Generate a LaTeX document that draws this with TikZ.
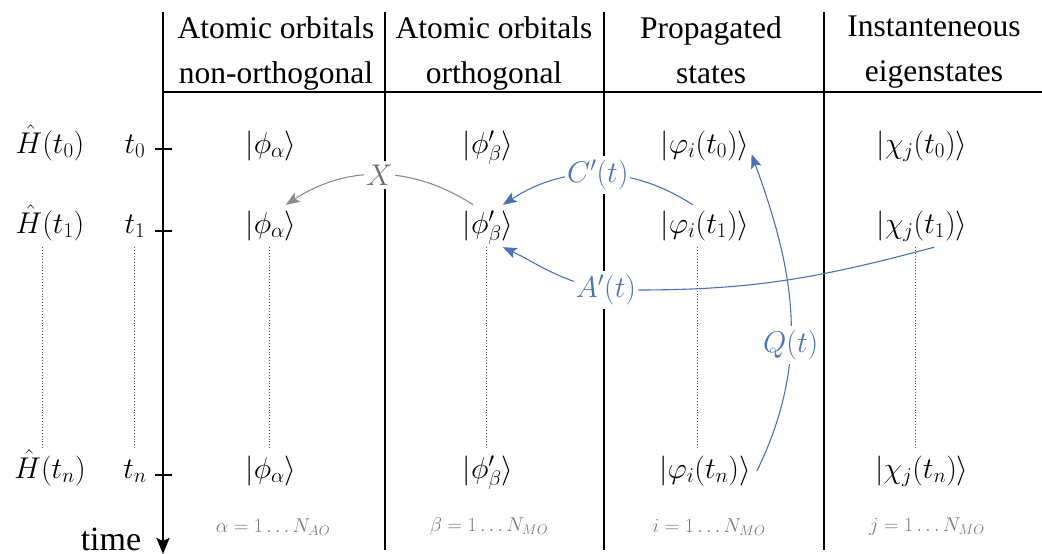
\RequirePackage{fix-cm}
\documentclass[tikz,border=0pt]{standalone}
\usepackage[no-math]{fontspec}
\setmainfont{Liberation Serif}
\usetikzlibrary{arrows.meta}
\definecolor{qblue}{RGB}{74,114,184}
\definecolor{xgray}{RGB}{140,140,140}
\definecolor{xtext}{RGB}{110,110,110}
\definecolor{lgray}{RGB}{120,120,120}
\begin{document}
\begin{tikzpicture}[x=1pt,y=1pt,
  every node/.style={font=\fontsize{30}{36}\selectfont},
  row/.style={anchor=base, inner xsep=2pt, inner ysep=6pt, text height=22.5pt, text depth=7.5pt},
  head/.style={anchor=north, inner sep=0pt, align=center, font=\fontsize{31.5}{45}\selectfont},
  rng/.style={text=lgray, font=\fontsize{20}{24}\selectfont},
  sep/.style={line width=1.3pt},
  tick/.style={line width=2pt},
  dots/.style={dotted, line width=0.9pt, black!70},
  blu/.style={qblue, line width=1.1pt},
  barrow/.style={blu, -{Stealth[length=14pt,width=11pt,inset=3pt]}},
  garrow/.style={xgray, line width=1.1pt, -{Stealth[length=14pt,width=11pt,inset=3pt]}},
  lab/.style={fill=white, inner xsep=2pt, inner ysep=4pt},
]
\useasboundingbox (0,0) rectangle (1042,554);

% headers
\node[head] (hd1) at (276,538) {Atomic orbitals\\non-orthogonal};
\node[head] (hd2) at (494,538) {Atomic orbitals\\orthogonal};
\node[head] (hd3) at (711,538) {Propagated\\states};
\node[head] (hd4) at (934,538) {Instanteneous\\eigenstates};

% table lines
\draw[sep] (163,462) -- (1042,462);
\draw[sep] (385,542) -- (385,4);
\draw[sep] (604,542) -- (604,4);
\draw[sep] (824,542) -- (824,4);

% time axis
\draw[line width=2.4pt, -{Stealth[length=16pt,width=13pt,inset=3pt]}] (163,542) -- (163,0);
\draw[tick] (155,405) -- (172,405);
\draw[tick] (155,323) -- (172,323);
\draw[tick] (155,79) -- (172,79);
\node[anchor=base, font=\fontsize{34}{40}\selectfont] (time) at (111,3) {time};

% row labels
\node[row] (h0) at (50,400.5) {$\hat H(t_0)$};
\node[row] (h1) at (50,320.5) {$\hat H(t_1)$};
\node[row] (hn) at (50,75.5) {$\hat H(t_n)$};
\node[row] (s0) at (135,400.5) {$t_0$};
\node[row] (s1) at (135,320.5) {$t_1$};
\node[row] (sn) at (135,75.5) {$t_n$};

% kets
\node[row] (a0) at (271,400.5) {$|\phi_\alpha\rangle$};
\node[row] (a1) at (271,320.5) {$|\phi_\alpha\rangle$};
\node[row] (an) at (271,75.5) {$|\phi_\alpha\rangle$};
\node[row] (b0) at (488,400.5) {$|\phi'_\beta\rangle$};
\node[row] (b1) at (488,320.5) {$|\phi'_\beta\rangle$};
\node[row] (bn) at (488,75.5) {$|\phi'_\beta\rangle$};
\node[row] (c0) at (705,400.5) {$|\varphi_i(t_0)\rangle$};
\node[row] (c1) at (705,320.5) {$|\varphi_i(t_1)\rangle$};
\node[row] (cn) at (705,75.5) {$|\varphi_i(t_n)\rangle$};
\node[row] (d0) at (922,400.5) {$|\chi_j(t_0)\rangle$};
\node[row] (d1) at (922,320.5) {$|\chi_j(t_1)\rangle$};
\node[row] (dn) at (922,75.5) {$|\chi_j(t_n)\rangle$};

% dotted continuation lines
\draw[dots] ([xshift=-8pt]h1.south) -- ([xshift=-8pt]hn.north);
\draw[dots] ([xshift=-1pt]s1.south) -- ([xshift=-1pt]sn.north);
\draw[dots] ([xshift=-2pt]a1.south) -- ([xshift=-2pt]an.north);
\draw[dots] ([xshift=-2pt]b1.south) -- ([xshift=-2pt]bn.north);
\draw[dots] ([xshift=-8pt]c1.south) -- ([xshift=-8pt]cn.north);
\draw[dots] ([xshift=-7pt]d1.south) -- ([xshift=-7pt]dn.north);

% ranges
\node[rng] (ra) at (273,27) {$\alpha=1\ldots N_{AO}$};
\node[rng] (rb) at (489,27) {$\beta=1\ldots N_{MO}$};
\node[rng] (ri) at (709,27) {$i=1\ldots N_{MO}$};
\node[rng] (rj) at (927,27) {$j=1\ldots N_{MO}$};

% transformations
\draw[garrow] (b1.125) to[out=147,in=33] node[lab, text=xtext] (X) {$X$} (a1.55);
\draw[barrow] (c1.120) to[out=147,in=33] node[lab, text=qblue] (C) {$C'(t)$} (b1.55);
\draw[barrow] ([xshift=4pt]cn.east) to[out=64,in=-70] node[lab, text=qblue, pos=0.4] (Q) {$Q(t)$} (c0.-10);
\node[lab, text=qblue] (A) at (606,264) {$A'(t)$};
\draw[blu] (d1.-60) to[out=195,in=0] (A.east);
\draw[barrow] (A.165) to[out=160,in=-25] (b1.-55);
\end{tikzpicture}
\end{document}
